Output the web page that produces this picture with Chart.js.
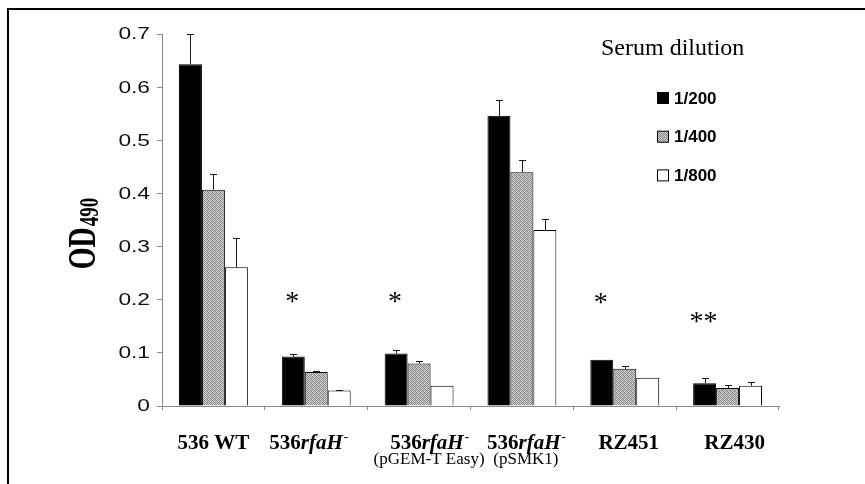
<!DOCTYPE html>
<html>
<head>
<meta charset="utf-8">
<script src="https://cdn.jsdelivr.net/npm/chart.js@4.4.1/dist/chart.umd.min.js"></script>
<style>
  html, body { margin: 0; padding: 0; background: #fff; }
  #wrap { width: 865px; height: 484px; position: relative; }
</style>
</head>
<body>
<div id="wrap"><canvas id="c" width="865" height="484"></canvas></div>
<script>
// Strains tested (the gene name is set in italics when drawn)
const strains  = ['536 WT', '536rfaH-', '536rfaH-', '536rfaH-', 'RZ451', 'RZ430'];
const plasmids = ['', '', '(pGEM-T Easy)', '(pSMK1)', '', ''];
const dilutions = ['1/200', '1/400', '1/800'];

// Mean OD490 per strain for each serum dilution
const od200 = [0.643, 0.093, 0.099, 0.546, 0.087, 0.043];
const od400 = [0.407, 0.064, 0.080, 0.440, 0.070, 0.034];
const od800 = [0.261, 0.029, 0.038, 0.331, 0.053, 0.038];

// Standard deviations (upper whisker only)
const sd200 = [0.057, 0.004, 0.006, 0.029, 0.000, 0.010];
const sd400 = [0.030, 0.002, 0.005, 0.023, 0.005, 0.006];
const sd800 = [0.056, 0.001, 0.000, 0.020, 0.000, 0.007];

// Significance marks and the OD level they sit at
const sigMarks  = ['', '*', '*', '', '*', '**'];
const sigLevels = [null, 0.205, 0.205, null, 0.203, 0.168];

const yMin = 0, yMax = 0.7, yStep = 0.1;
const legendTitle = 'Serum dilution';
const yTitle = 'OD', yTitleSub = '490';

const SERIF = "'Liberation Serif', 'Times New Roman', serif";
const SANS  = "'Liberation Sans', Arial, sans-serif";
const AXIS  = '#8a8a8a';

const canvas = document.getElementById('c');
const ctx0 = canvas.getContext('2d');

// fine dithered grey used for the middle dilution
function ditherPattern() {
  const t = document.createElement('canvas');
  t.width = 4; t.height = 4;
  const g = t.getContext('2d');
  const shades = [
    [0x88, 0xd0, 0x9c, 0xc4],
    [0xc0, 0x8c, 0xd4, 0x94],
    [0xa0, 0xcc, 0x84, 0xbc],
    [0xd4, 0x98, 0xc4, 0x88]
  ];
  for (let r = 0; r < 4; r++) for (let c = 0; c < 4; c++) {
    const v = shades[r][c];
    g.fillStyle = `rgb(${v},${v},${v})`;
    g.fillRect(c, r, 1, 1);
  }
  return ctx0.createPattern(t, 'repeat');
}
const greyFill = ditherPattern();

const fills = ['#000000', greyFill, '#ffffff'];
const series = [od200, od400, od800];
const errors = [sd200, sd400, sd800];

// split "536rfaH-" into plain number, italic gene and superscript minus
function labelRuns(s) {
  const m = s.match(/^(\d+)([a-z][A-Za-z]*)(-)?$/);
  if (!m) return [{ text: s }];
  const runs = [{ text: m[1] }, { text: m[2], italic: true }];
  if (m[3]) runs.push({ text: '-', sup: true });
  return runs;
}

const errorBars = {
  id: 'errorBars',
  afterDatasetsDraw(chart) {
    const ctx = chart.ctx, y = chart.scales.y;
    ctx.save();
    ctx.strokeStyle = '#1a1a1a';
    ctx.lineWidth = 1;
    chart.data.datasets.forEach((ds, di) => {
      const meta = chart.getDatasetMeta(di);
      meta.data.forEach((bar, i) => {
        const e = errors[di][i];
        if (!e) return;
        const x = Math.round(bar.x) + 0.5;
        const base = y.getPixelForValue(ds.data[i]);
        const top = Math.round(y.getPixelForValue(ds.data[i] + e)) + 0.5;
        ctx.beginPath();
        ctx.moveTo(x, base);
        ctx.lineTo(x, top);
        ctx.moveTo(x - 3.5, top);
        ctx.lineTo(x + 3.5, top);
        ctx.stroke();
      });
    });
    ctx.restore();
  }
};

const decorations = {
  id: 'decorations',
  afterDraw(chart) {
    const ctx = chart.ctx, x = chart.scales.x, y = chart.scales.y;
    ctx.save();

    // outer frame
    ctx.strokeStyle = '#000';
    ctx.lineWidth = 2;
    ctx.beginPath();
    ctx.moveTo(8, 490);
    ctx.lineTo(8, 9);
    ctx.lineTo(870, 9);
    ctx.stroke();

    // y tick labels, set in a wide sans face
    ctx.fillStyle = '#111';
    ctx.font = `16px ${SANS}`;
    ctx.textAlign = 'right';
    ctx.textBaseline = 'middle';
    y.ticks.forEach(t => {
      const py = y.getPixelForValue(t.value);
      ctx.save();
      ctx.translate(150, py + 1);
      ctx.scale(1.42, 1);
      ctx.fillText(String(+t.value.toFixed(1)), 0, 0);
      ctx.restore();
    });

    // strain labels under the axis
    const nudge = [0, -8, 10, 4, 4, 7];
    const mainSize = 21, subSize = 17;
    ctx.fillStyle = '#000';
    ctx.textBaseline = 'alphabetic';
    strains.forEach((s, i) => {
      const runs = labelRuns(s);
      const fontFor = r => r.sup ? `bold 13px ${SERIF}`
        : (r.italic ? `italic bold ${mainSize}px ${SERIF}` : `bold ${mainSize}px ${SERIF}`);
      let w = 0;
      runs.forEach(r => { ctx.font = fontFor(r); r.w = ctx.measureText(r.text).width; w += r.w; });
      const cx = x.getPixelForValue(i) + nudge[i];
      let px = cx - w / 2;
      ctx.textAlign = 'left';
      runs.forEach(r => {
        ctx.font = fontFor(r);
        ctx.fillText(r.text, px + (r.sup ? 1 : 0), r.sup ? 441 : 449);
        px += r.w;
      });
      if (plasmids[i]) {
        ctx.font = `${subSize}px ${SERIF}`;
        ctx.textAlign = 'center';
        ctx.fillText(plasmids[i], cx, 464);
      }
    });

    // significance asterisks above the 1/200 bars
    const m0 = chart.getDatasetMeta(0);
    const starSize = 28;
    ctx.font = `${starSize}px ${SERIF}`;
    ctx.textAlign = 'center';
    sigMarks.forEach((mark, i) => {
      if (!mark) return;
      const px = m0.data[i].x - 1;
      const py = y.getPixelForValue(sigLevels[i]);
      ctx.fillText(mark, px, py + starSize * 0.47);
    });

    // y-axis title with subscript
    ctx.save();
    ctx.translate(95, 234);
    ctx.rotate(-Math.PI / 2);
    ctx.scale(1, 1.4);
    ctx.font = `bold 28px ${SERIF}`;
    const wMain = ctx.measureText(yTitle).width;
    ctx.font = `bold 19px ${SERIF}`;
    const wSub = ctx.measureText(yTitleSub).width;
    const sx = -(wMain + wSub) / 2;
    ctx.textAlign = 'left';
    ctx.font = `bold 28px ${SERIF}`;
    ctx.fillText(yTitle, sx, 0);
    ctx.font = `bold 19px ${SERIF}`;
    ctx.fillText(yTitleSub, sx + wMain + 1, 2);
    ctx.restore();

    // legend
    ctx.font = `24px ${SERIF}`;
    ctx.textAlign = 'left';
    ctx.fillStyle = '#000';
    ctx.fillText(legendTitle, 601, 55);
    chart.data.datasets.forEach((ds, i) => {
      const cy = 98 + i * 38.7;
      ctx.fillStyle = ds.backgroundColor;
      ctx.fillRect(657, cy - 5.5, 11, 11);
      ctx.strokeStyle = '#000';
      ctx.lineWidth = 1;
      ctx.strokeRect(657.5, cy - 5.5, 11, 11);
      ctx.fillStyle = '#000';
      ctx.font = `bold 17px ${SANS}`;
      ctx.textBaseline = 'middle';
      ctx.fillText(ds.label, 674, cy + 1);
      ctx.textBaseline = 'alphabetic';
    });

    ctx.restore();
  }
};

new Chart(canvas, {
  type: 'bar',
  data: {
    labels: strains.map((s, i) => plasmids[i] ? `${s} ${plasmids[i]}` : s),
    datasets: dilutions.map((d, i) => ({
      label: d,
      data: series[i],
      backgroundColor: fills[i],
      borderColor: '#000',
      borderWidth: 1,
      categoryPercentage: 0.67,
      barPercentage: 1.0
    }))
  },
  options: {
    responsive: false,
    animation: false,
    events: [],
    layout: { padding: { left: 0, top: 34, right: 86, bottom: 0 } },
    plugins: { legend: { display: false }, tooltip: { enabled: false } },
    scales: {
      x: {
        offset: true,
        grid: { drawOnChartArea: false, drawTicks: true, tickLength: 4, color: AXIS, offset: true },
        border: { color: AXIS, width: 1 },
        ticks: { display: false },
        afterFit(s) { s.height = 78; }
      },
      y: {
        min: yMin, max: yMax,
        grid: { drawOnChartArea: false, drawTicks: true, tickLength: 5, color: AXIS },
        border: { color: AXIS, width: 1 },
        ticks: { stepSize: yStep, display: false },
        afterFit(s) { s.width = 162; }
      }
    }
  },
  plugins: [errorBars, decorations]
});
</script>
</body>
</html>
